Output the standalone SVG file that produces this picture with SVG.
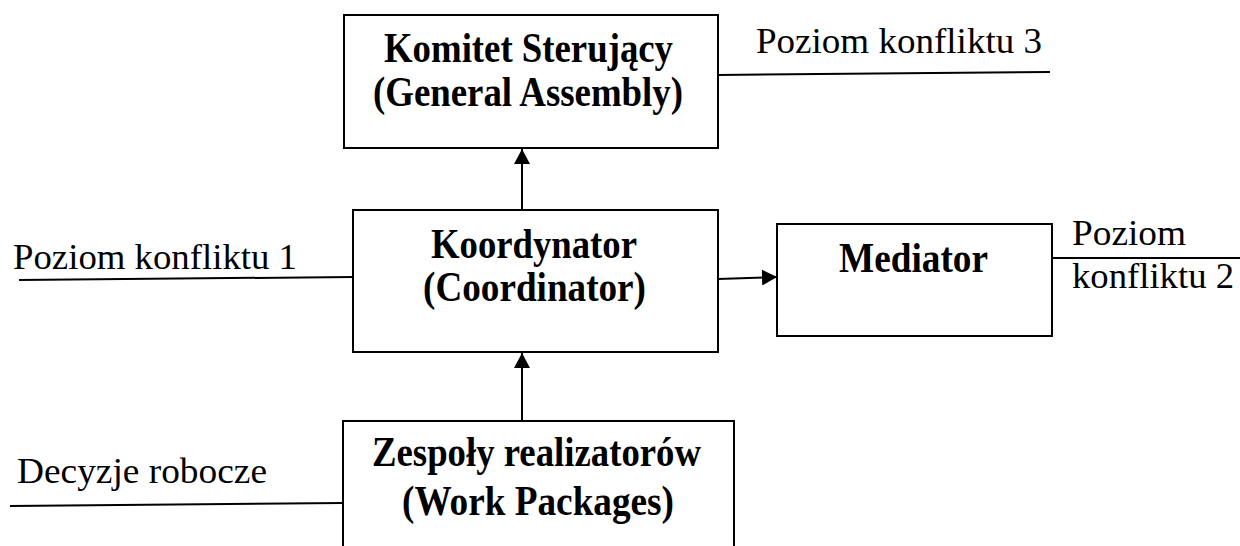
<svg xmlns="http://www.w3.org/2000/svg" width="1240" height="546" viewBox="0 0 1240 546">
  <style>
    .box { fill: #ffffff; stroke: #000000; stroke-width: 2; }
    .wire { fill: none; stroke: #000000; stroke-width: 2; }
    .title { font-family: "Liberation Serif", "Times New Roman", serif; font-weight: bold; font-size: 42px; fill: #000000; }
    .note { font-family: "Liberation Serif", "Times New Roman", serif; font-size: 36px; fill: #000000; }
  </style>
  <defs>
    <marker id="arrow" markerUnits="userSpaceOnUse" markerWidth="16" markerHeight="16" refX="15" refY="8" orient="auto">
      <path d="M0,0 L15,8 L0,16 Z" fill="#000000"/>
    </marker>
  </defs>

  <rect width="1240" height="546" fill="#ffffff"/>

  <!-- connectors and level lines -->
  <g id="connectors">
    <line class="wire" x1="522" y1="210" x2="522" y2="149" marker-end="url(#arrow)"/>
    <line class="wire" x1="522" y1="421" x2="522" y2="353" marker-end="url(#arrow)"/>
    <line class="wire" x1="718" y1="279" x2="777" y2="277" marker-end="url(#arrow)"/>
    <line class="wire" x1="718" y1="75" x2="1050" y2="72"/>
    <line class="wire" x1="19" y1="280" x2="353" y2="277"/>
    <line class="wire" x1="1052" y1="258" x2="1240" y2="258"/>
    <line class="wire" x1="10" y1="506" x2="343" y2="503"/>
  </g>

  <!-- steering committee -->
  <g id="komitet">
    <rect class="box" x="344" y="15" width="374" height="133"/>
    <text class="title" x="384" y="62" textLength="289" lengthAdjust="spacingAndGlyphs">Komitet Sterujący</text>
    <text class="title" x="373" y="106" textLength="310" lengthAdjust="spacingAndGlyphs">(General Assembly)</text>
  </g>

  <!-- coordinator -->
  <g id="koordynator">
    <rect class="box" x="353" y="210" width="365" height="142"/>
    <text class="title" x="431" y="258" textLength="206" lengthAdjust="spacingAndGlyphs">Koordynator</text>
    <text class="title" x="423" y="301" textLength="223" lengthAdjust="spacingAndGlyphs">(Coordinator)</text>
  </g>

  <!-- mediator -->
  <g id="mediator">
    <rect class="box" x="777" y="224" width="275" height="112"/>
    <text class="title" x="839" y="272" textLength="149" lengthAdjust="spacingAndGlyphs">Mediator</text>
  </g>

  <!-- work packages (box runs past the lower edge) -->
  <g id="zespoly">
    <rect class="box" x="343" y="421" width="391" height="160"/>
    <text class="title" x="372" y="466" textLength="329" lengthAdjust="spacingAndGlyphs">Zespoły realizatorów</text>
    <text class="title" x="402" y="515" textLength="272" lengthAdjust="spacingAndGlyphs">(Work Packages)</text>
  </g>

  <!-- level labels -->
  <g id="labels">
    <text class="note" x="756" y="53" textLength="286" lengthAdjust="spacingAndGlyphs">Poziom konfliktu 3</text>
    <text class="note" x="13" y="269" textLength="284" lengthAdjust="spacingAndGlyphs">Poziom konfliktu 1</text>
    <text class="note" x="1072" y="245" textLength="114" lengthAdjust="spacingAndGlyphs">Poziom</text>
    <text class="note" x="1072" y="288" textLength="162" lengthAdjust="spacingAndGlyphs">konfliktu 2</text>
    <text class="note" x="17" y="483" textLength="250" lengthAdjust="spacingAndGlyphs">Decyzje robocze</text>
  </g>
</svg>
